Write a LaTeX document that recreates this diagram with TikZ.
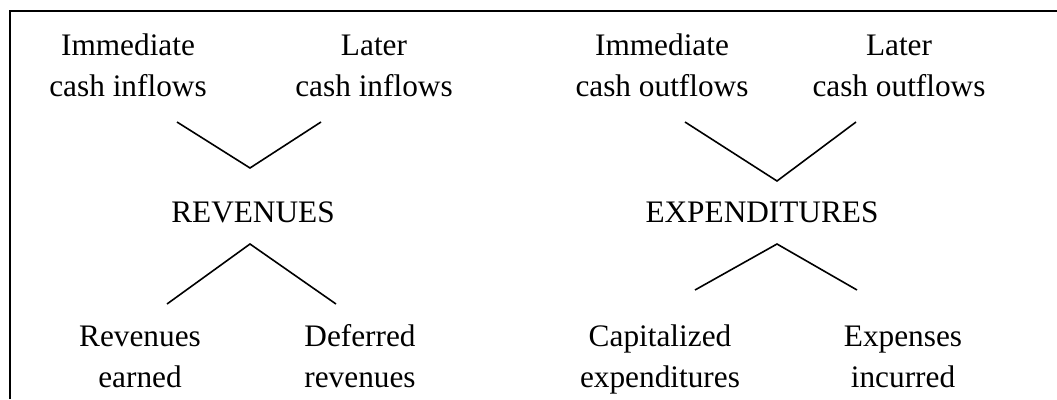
\documentclass[tikz,border=0pt]{standalone}
\usepackage{fontspec}
\setmainfont{Liberation Serif}
\begin{document}
\begin{tikzpicture}[x=1pt,y=-1pt,
  lbl/.style={inner sep=0pt, outer sep=0pt, anchor=base, align=center,
    font=\fontsize{31.3}{40.5}\selectfont},
  conn/.style={line width=1.6pt, line join=miter},
  frameline/.style={line width=2.2pt}]
\useasboundingbox (0,0) rectangle (1057,399);
% frame (open on the right and bottom)
\coordinate (fb) at (10,399);
\coordinate (ftl) at (10,11);
\coordinate (ftr) at (1057,11);
\draw[frameline] (fb) -- (ftl) -- (ftr);
% labels (anchored at the baseline of the last line)
\node[lbl] (immin) at (128,96) {Immediate\\cash inflows};
\node[lbl] (latin) at (374,96) {Later\\cash inflows};
\node[lbl] (immout) at (662,96) {Immediate\\cash outflows};
\node[lbl] (latout) at (899,96) {Later\\cash outflows};
\node[lbl] (rev) at (253,222) {REVENUES};
\node[lbl] (exp) at (762,222) {EXPENDITURES};
\node[lbl] (earned) at (140,387) {Revenues\\earned};
\node[lbl] (deferred) at (360,387) {Deferred\\revenues};
\node[lbl] (capit) at (660,387) {Capitalized\\expenditures};
\node[lbl] (expinc) at (903,387) {Expenses\\incurred};
% connector ends
\coordinate (v1a) at (177,122);
\coordinate (v1m) at (250,168);
\coordinate (v1b) at (321,122);
\coordinate (v2a) at (685,122);
\coordinate (v2m) at (777,181);
\coordinate (v2b) at (856,122);
\coordinate (l1a) at (167,304);
\coordinate (l1m) at (250,244);
\coordinate (l1b) at (336,304);
\coordinate (l2a) at (695,290);
\coordinate (l2m) at (777,244);
\coordinate (l2b) at (857,290);
\draw[conn] (v1a) -- (v1m) -- (v1b);
\draw[conn] (v2a) -- (v2m) -- (v2b);
\draw[conn] (l1a) -- (l1m) -- (l1b);
\draw[conn] (l2a) -- (l2m) -- (l2b);
\end{tikzpicture}
\end{document}
